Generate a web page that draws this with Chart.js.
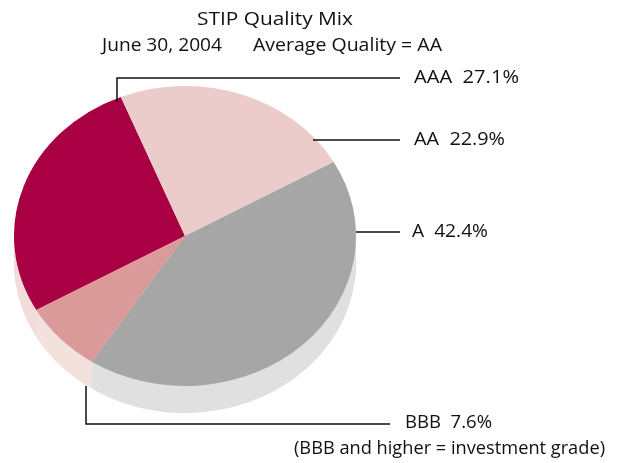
<!DOCTYPE html>
<html>
<head>
<meta charset="utf-8">
<script src="https://cdn.jsdelivr.net/npm/chart.js@4.4.0/dist/chart.umd.min.js"></script>
<style>
  body { margin: 0; background: #fff; }
  canvas { display: block; }
</style>
</head>
<body>
<canvas id="qualityChart" width="619" height="463"></canvas>
<script>
// data
var categories = ['AAA', 'AA', 'A', 'BBB'];
var shares = [27.1, 22.9, 42.4, 7.6];
var topColors = ['#a80042', '#ecccca', '#a6a6a6', '#d99a99'];
var sideColors = ['#f2dcdc', '#f5e6e5', '#e0e0e0', '#f3e1de'];
var titleText = 'STIP Quality Mix';
var dateText = 'June 30, 2004';
var avgText = 'Average Quality = AA';
var noteText = '(BBB and higher = investment grade)';

var TILT = 150 / 171;   // ellipse squash
var DEPTH = 27;         // pie thickness in px
var FONT = '"Open Sans", "DejaVu Sans", sans-serif';

// draw a string so it fills a given width (fonts differ from the original)
function fitText(ctx, str, x, y, w, size, weight) {
	ctx.save();
	ctx.font = (weight || 'normal') + ' ' + size + 'px ' + FONT;
	ctx.textBaseline = 'middle';
	ctx.textAlign = 'left';
	var m = ctx.measureText(str).width;
	ctx.translate(x, y);
	ctx.scale(w / m, 1);
	ctx.fillText(str, 0, 0);
	ctx.restore();
}

function squash(ctx, cy) {
	ctx.translate(0, cy);
	ctx.scale(1, TILT);
	ctx.translate(0, -cy);
}

var pie3d = {
	id: 'pie3d',
	beforeDatasetsDraw: function(chart) {
		var ctx = chart.ctx;
		var arcs = chart.getDatasetMeta(0).data;
		// side of the pie: stacked copies, far ones first
		for (var d = DEPTH; d >= 1; d--) {
			arcs.forEach(function(arc, i) {
				var p = arc.getProps(['x', 'y', 'startAngle', 'endAngle', 'outerRadius'], true);
				ctx.save();
				ctx.translate(0, d);
				squash(ctx, p.y);
				ctx.beginPath();
				ctx.moveTo(p.x, p.y);
				ctx.arc(p.x, p.y, p.outerRadius, p.startAngle, p.endAngle);
				ctx.closePath();
				ctx.fillStyle = sideColors[i];
				ctx.fill();
				ctx.restore();
			});
		}
		// top face squashed into an ellipse
		var c = arcs[0].getProps(['y'], true);
		ctx.save();
		squash(ctx, c.y);
	},
	afterDatasetsDraw: function(chart) {
		chart.ctx.restore();
	},
	afterDraw: function(chart) {
		var ctx = chart.ctx;
		ctx.save();
		ctx.fillStyle = '#111';
		fitText(ctx, titleText, 197, 20, 156, 18);
		fitText(ctx, dateText, 102, 46, 120, 18);
		fitText(ctx, avgText, 253, 46, 189, 18);

		// leader lines
		ctx.strokeStyle = '#111';
		ctx.lineWidth = 1.5;
		ctx.beginPath();
		ctx.moveTo(117, 102); ctx.lineTo(117, 78); ctx.lineTo(400, 78);
		ctx.moveTo(313, 140); ctx.lineTo(400, 140);
		ctx.moveTo(356, 232); ctx.lineTo(400, 232);
		ctx.moveTo(86, 386); ctx.lineTo(86, 424); ctx.lineTo(390, 424);
		ctx.stroke();

		var lbl = categories.map(function(c, i) { return c + '  ' + shares[i].toFixed(1) + '%'; });
		fitText(ctx, lbl[0], 414, 78, 105, 18);
		fitText(ctx, lbl[1], 414, 140, 91, 18);
		fitText(ctx, lbl[2], 412, 232, 76, 18);
		fitText(ctx, lbl[3], 405, 423, 87, 18);
		fitText(ctx, noteText, 294, 449, 311, 18);
		ctx.restore();
	}
};

new Chart(document.getElementById('qualityChart').getContext('2d'), {
	type: 'pie',
	data: {
		labels: categories,
		datasets: [{
			data: shares,
			backgroundColor: topColors,
			borderWidth: 0,
			clip: false
		}]
	},
	options: {
		responsive: false,
		animation: false,
		rotation: 240.4,
		layout: { padding: { left: 14, right: 263, top: 65, bottom: 56 } },
		plugins: {
			legend: { display: false },
			tooltip: { enabled: false },
			title: { display: false }
		}
	},
	plugins: [pie3d]
});
</script>
</body>
</html>
